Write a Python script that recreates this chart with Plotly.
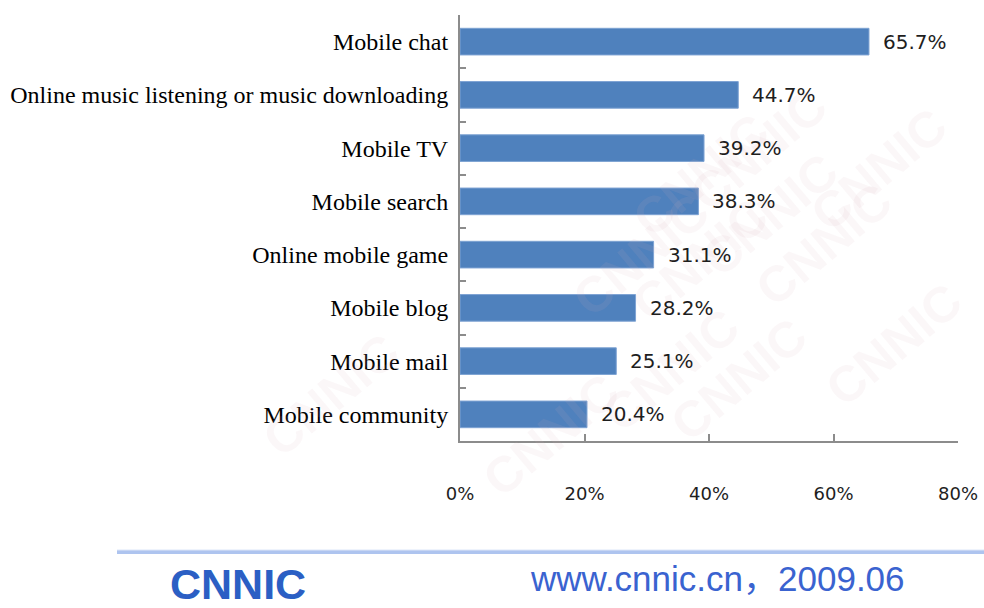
import plotly.graph_objects as go

# Mobile internet applications, share of users (%)
categories = [
    "Mobile chat",
    "Online music listening or music downloading",
    "Mobile TV",
    "Mobile search",
    "Online mobile game",
    "Mobile blog",
    "Mobile mail",
    "Mobile community",
]
usage_pct = [65.7, 44.7, 39.2, 38.3, 31.1, 28.2, 25.1, 20.4]
x_ticks = [0, 20, 40, 60, 80]
x_tick_labels = ["0%", "20%", "40%", "60%", "80%"]
source_note = "www.cnnic.cn，2009.06"
logo_text = "CNNIC"

W, H = 984, 608
M_L, M_R, M_T, M_B = 460, 26, 15, 167
PLOT_W = W - M_L - M_R
PLOT_H = H - M_T - M_B

BAR_BLUE = "#4f81bd"
AXIS_GREY = "#8c8c8c"


def px_to_paper(px, py):
    """Convert page pixel position to plotly paper coordinates."""
    return (px - M_L) / PLOT_W, (H - M_B - py) / PLOT_H


fig = go.Figure()
fig.add_trace(go.Bar(
    x=usage_pct,
    y=categories,
    orientation="h",
    marker=dict(color=BAR_BLUE, line=dict(color="#7ea3d3", width=1)),
    width=0.5,
    hoverinfo="skip",
))

annotations = []

# faint diagonal watermark behind the chart
wm_centres = [
    (620, 100), (840, 75), (560, 255), (770, 215), (960, 170),
    (700, 335), (905, 320), (590, 445), (820, 455), (975, 420),
    (250, 470), (470, 510),
]
for cx, cy in wm_centres:
    ax_, ay_ = px_to_paper(cx, cy)
    annotations.append(dict(
        x=ax_, y=ay_, xref="paper", yref="paper", text=f"<b>{logo_text}</b>",
        showarrow=False, textangle=-40,
        font=dict(family="Liberation Sans", size=50, color="rgba(215,175,185,0.10)"),
    ))

# value labels to the right of each bar
for cat, v in zip(categories, usage_pct):
    annotations.append(dict(
        x=v, y=cat, xref="x", yref="y", text=f"{v:.1f}%",
        showarrow=False, xanchor="left", yanchor="middle", xshift=12,
        font=dict(family="DejaVu Sans", size=20, color="#1e1e1e"),
    ))

# footer: logo and source line
lx, ly = px_to_paper(238, 584)
annotations.append(dict(
    x=lx, y=ly, xref="paper", yref="paper", text=f"<b>{logo_text}</b>",
    showarrow=False, xanchor="center", yanchor="middle",
    font=dict(family="Liberation Sans", size=43, color="#2b5fc4"),
))
sx, sy = px_to_paper(717, 578)
annotations.append(dict(
    x=sx, y=sy, xref="paper", yref="paper", text=source_note,
    showarrow=False, xanchor="center", yanchor="middle",
    font=dict(family="Liberation Sans, Noto Sans CJK SC", size=35, color="#3a63d0"),
))

x0l, yl = px_to_paper(117, 552)
x1l, _ = px_to_paper(984, 552)
_, yl2 = px_to_paper(0, 550)

fig.update_layout(
    width=W, height=H,
    margin=dict(l=M_L, r=M_R, t=M_T, b=M_B, autoexpand=False),
    paper_bgcolor="white", plot_bgcolor="rgba(0,0,0,0)",
    showlegend=False,
    bargap=0.5,
    annotations=annotations,
    shapes=[
        dict(type="line", xref="paper", yref="paper",
             x0=x0l, x1=x1l, y0=yl, y1=yl,
             line=dict(color="#aec4ef", width=4), layer="below"),
        dict(type="line", xref="paper", yref="paper",
             x0=x0l, x1=x1l, y0=yl2, y1=yl2,
             line=dict(color="#dde6f8", width=1), layer="below"),
    ],
    xaxis=dict(
        range=[0, 80], tickvals=x_ticks, ticktext=x_tick_labels,
        showgrid=False, zeroline=False, automargin=False,
        showline=True, linecolor=AXIS_GREY, linewidth=2,
        ticks="inside", ticklen=7, tickwidth=1.5, tickcolor=AXIS_GREY,
        ticklabelstandoff=35,
        tickfont=dict(family="DejaVu Sans", size=18, color="#1e1e1e"),
        fixedrange=True,
    ),
    yaxis=dict(
        categoryorder="array", categoryarray=categories, autorange="reversed",
        showgrid=False, zeroline=False, automargin=False,
        showline=True, linecolor=AXIS_GREY, linewidth=2,
        ticks="inside", tickson="boundaries", ticklen=6, tickwidth=1.5, tickcolor=AXIS_GREY,
        ticklabelstandoff=5,
        tickfont=dict(family="Liberation Serif", size=24, color="#000000"),
        fixedrange=True,
    ),
)

fig.write_html("out.html", config={"displayModeBar": False})
